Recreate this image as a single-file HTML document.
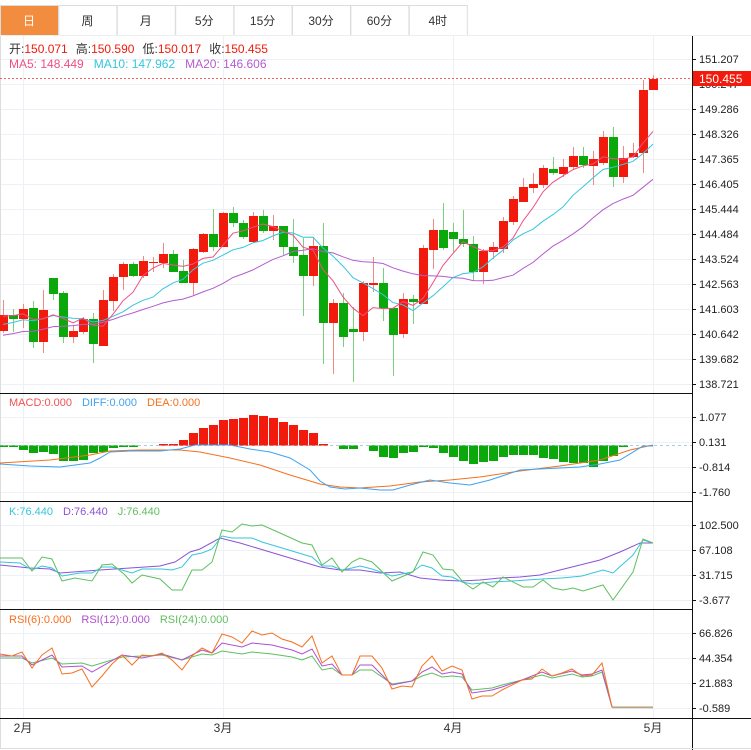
<!DOCTYPE html>
<html><head><meta charset="utf-8"><style>
html,body{margin:0;padding:0;background:#fff;}
body{width:751px;height:750px;overflow:hidden;font-family:"Liberation Sans","Noto Sans CJK SC",sans-serif;}
</style></head><body>
<svg id="s" width="751" height="750" xmlns="http://www.w3.org/2000/svg" style="position:absolute;left:0;top:0;font-family:'Liberation Sans','Noto Sans CJK SC',sans-serif"></svg>
<script>
const S=document.getElementById('s');let h='';
function L(x1,y1,x2,y2,c,w,d){h+=`<line x1="${x1}" y1="${y1}" x2="${x2}" y2="${y2}" stroke="${c}" stroke-width="${w||1}" ${d?'stroke-dasharray="'+d+'"':''}/>`;}
function R(x,y,w,hh,f,st){h+=`<rect x="${x}" y="${y}" width="${w}" height="${hh}" fill="${f}" ${st?'stroke="'+st+'"':''}/>`;}
function T(x,y,t,c,sz,a){h+=`<text x="${x}" y="${y}" fill="${c}" font-size="${sz||12}" ${a?'text-anchor="'+a+'"':''}>${t}</text>`;}
function P(pts,c,w){h+=`<polyline points="${pts.map(p=>p.join(',')).join(' ')}" fill="none" stroke="${c}" stroke-width="${w||1}"/>`;}
function PF(a){let r=[];for(let i=0;i<a.length;i+=2)r.push([a[i],a[i+1]]);return r;}
// tabs
const tabs=['日','周','月','5分','15分','30分','60分','4时'];
tabs.forEach((t,i)=>{let x=i*58.4;R(x+0.5,5.5,58,30,i==0?'#f28d3f':'#fff','#dddddd');T(x+29,25,t,i==0?'#fff':'#333',12,'middle');});
// grids
const gc='#edf1f5';
[59,84,109,134,159,184,209,234,259,284,309,334,359,384,417,442,467,492,525,550,575,600,633,658,683,708].forEach(y=>L(0,y+.5,692,y+.5,gc));
[23,223,453,653].forEach(x=>L(x+.5,36,x+.5,718,gc));
L(0.5,36,0.5,748,'#ddd');
// candles
const C=[
[315,331,300,333,'r'],[315,319,309,332,'g'],[309,319,304,328,'r'],[308,342,301,348,'g'],[310,342,290,353,'r'],
[278,294,278,300,'g'],[293,337,291,343,'g'],[331,337,325,343,'r'],[319,332,317,334,'r'],[319,344,313,363,'g'],
[300,346,290,346,'r'],[277,301,274,311,'r'],[264,277,262,290,'r'],[264,276,262,277,'g'],[261,276,256,278,'r'],
[262,263,257,272,'r'],[254,263,243,268,'r'],[254,272,250,272,'g'],[271,283,260,283,'g'],[249,283,248,295,'r'],
[234,252,233,253,'r'],[234,247,209,251,'g'],[213,247,212,247,'r'],[213,223,207,227,'g'],[223,237,220,239,'g'],
[216,242,212,243,'r'],[216,231,210,233,'g'],[226,231,215,240,'r'],[226,247,226,255,'g'],[247,256,219,263,'g'],
[255,276,238,316,'g'],[246,276,237,286,'r'],[246,323,223,364,'g'],[303,323,299,374,'r'],[303,337,293,347,'g'],
[329,332,307,382,'g'],[283,332,281,341,'r'],[283,285,257,292,'r'],[283,308,268,321,'g'],[308,335,308,376,'g'],
[299,334,293,338,'r'],[299,302,295,324,'g'],[248,304,245,304,'r'],[230,250,219,269,'r'],[230,248,203,250,'g'],
[232,239,223,252,'g'],[239,244,210,247,'g'],[244,272,236,281,'g'],[251,272,249,284,'r'],[247,252,242,259,'r'],
[221,249,217,253,'r'],[199,222,196,225,'r'],[187,202,178,202,'r'],[184,188,173,193,'r'],[168,185,165,188,'r'],
[169,173,157,175,'g'],[167,174,159,177,'r'],[156,167,147,170,'r'],[156,165,147,168,'g'],[159,166,151,185,'r'],
[137,163,131,165,'r'],[137,177,127,187,'g'],[158,177,146,183,'r'],[153,157,143,158,'r'],[90,153,80,173,'r'],[79,90,75,90,'r']];
const RED='#f21a0c',GRN='#0aa80a';
const closes=C.map(c=>c[4]=='r'?c[0]:c[1]);
C.forEach((c,i)=>{let x=3+10*i;let col=c[4]=='r'?RED:GRN;L(x+.5,c[2],x+.5,c[3],c[4]=='r'?'#f28a84':'#7ccf7c');R(x-4,c[0],9,Math.max(1,c[1]-c[0]),col);});
const pre=[352,350,348,349,347,345,344,343,342,340,338,336,333,330,326,322,318,314,312];
const all=pre.concat(closes);
function MA(n){let r=[];for(let i=0;i<closes.length;i++){let k=i+pre.length,s=0;for(let j=0;j<n;j++)s+=all[k-j];r.push([3+10*i,(s/n).toFixed(1)]);}return r;}
P(MA(20),'#b45ccf');P(MA(10),'#35c6dc');P(MA(5),'#ef4f84');
L(0,78.5,692,78.5,'#f46060',1,'2,2');
// MACD
L(0,445.5,692,445.5,'#9cd3dc',1,'3,3');
const M=[447,447,450,453,452,454,461,461,460,453,452,448,447,447,446,445.5,444,444,440,433,428,425,420,419,418,415,416,418,422,425,430,433,444,445.5,449,449,446,451,457,458,453,452,447,448,453,457,461,464,462,461,457,455,455,455,458,459,462,463,463,467,461,456,447,445.5,445.5,445.5];
M.forEach((v,i)=>{let x=3+10*i;if(Math.abs(v-445.5)<0.6)return;if(v<445.5)R(x-4,v,9,445.5-v,RED);else R(x-4,445.5,9,v-445.5,GRN);});
P(PF([0,463,50,460,90,455,110,451,140,450,180,450,200,452,230,458,260,465,290,475,320,484,340,487,360,488,390,486,420,482,450,480,480,477,520,471,560,466,600,460,630,450,653,445]),'#f5701e');
P(PF([0,464,30,466,60,467,90,463,100,458,110,452,130,451,160,451,180,449,195,445,230,445,250,449,270,452,290,458,310,470,320,481,330,487,345,489,360,488,380,490,393,490,410,485,430,480,450,483,470,485,490,480,520,470,560,468,580,467,600,464,610,462,620,460,643,446,653,446]),'#3ea3ef');
// KDJ
P(PF([0,565,30,568,50,569,60,573,100,570,130,568,160,566,175,562,190,552,200,549,220,538,240,543,270,552,300,561,320,567,340,570,360,570,380,573,400,572,420,578,440,580,460,581,480,580,500,578,520,577,540,575,560,570,580,565,600,560,620,552,640,543,653,543]),'#8a54d6');
P(PF([0,562,20,563,32,570,42,566,52,568,62,576,80,573,92,573,102,567,112,567,132,573,142,569,162,569,172,570,182,567,192,555,202,553,212,549,222,536,232,538,252,538,262,542,282,548,302,554,312,557,322,566,332,566,342,570,352,568,360,566,372,569,392,576,412,572,422,565,432,568,442,576,452,577,462,582,472,584,482,583,492,582,512,581,542,579,562,578,582,576,603,570,613,573,633,555,643,540,653,543]),'#35c6dc');
P(PF([0,558,22,558,32,571,42,557,52,559,62,581,75,578,92,581,102,565,112,564,125,575,132,583,142,575,160,579,172,590,182,590,192,570,202,570,212,562,222,530,232,532,242,524,252,526,262,525,280,533,302,543,312,545,322,565,332,558,342,572,352,562,360,558,372,562,392,581,413,572,423,552,433,555,443,569,453,570,463,582,473,589,483,582,493,587,503,577,523,587,533,587,543,580,553,588,563,590,573,588,583,591,603,585,613,600,633,572,643,539,653,543]),'#5fbf5f');
// RSI
P(PF([0,658,22,658,32,663,52,658,62,664,82,663,92,666,122,657,162,655,182,660,202,654,212,655,222,651,242,654,252,652,272,654,292,657,302,660,312,656,322,670,332,668,342,675,352,675,360,670,372,670,392,684,412,681,422,676,432,673,442,677,452,676,462,677,472,690,492,688,502,685,522,680,542,675,552,678,572,674,582,677,592,676,602,672,612,707,653,707]),'#5fbf5f');
P(PF([0,656,22,656,32,665,52,655,62,667,82,666,92,672,122,655,142,658,162,654,182,660,202,650,212,653,222,643,242,647,252,643,272,645,292,650,302,654,312,649,322,666,332,664,342,675,352,675,360,665,372,665,392,685,412,681,422,672,432,667,442,674,452,672,462,674,472,693,492,690,502,687,522,680,542,672,552,676,572,671,582,675,592,674,602,670,612,707,653,707]),'#b04fd0');
P(PF([0,654,12,656,22,652,32,668,42,655,52,648,62,674,72,673,82,669,92,687,102,676,112,664,122,655,132,665,142,655,152,656,162,653,172,660,182,670,192,656,202,648,212,653,222,634,232,637,242,643,252,631,262,635,272,633,282,639,292,642,302,647,312,636,322,663,332,656,342,675,352,675,360,656,372,656,382,668,392,689,402,686,412,687,422,666,432,656,442,671,452,666,462,670,472,699,482,696,492,696,502,690,522,680,532,679,542,669,552,676,562,673,572,669,582,676,592,675,602,663,612,707,653,707]),'#f5701e');
L(612,707.5,653,707.5,'#b0a890',1.5);
// separators
[393,501,609,718].forEach(y=>L(0,y+.5,692,y+.5,'#111'));
L(692.5,35,692.5,750,'#111');L(692,718.5,751,718.5,'#111');
L(0,748.5,751,748.5,'#ddd');L(0,35.5,751,35.5,'#eee');
// axis labels
const ax=[[59,'151.207'],[84,'150.247'],[109,'149.286'],[134,'148.326'],[159,'147.365'],[184,'146.405'],[209,'145.444'],[234,'144.484'],[259,'143.524'],[284,'142.563'],[309,'141.603'],[334,'140.642'],[359,'139.682'],[384,'138.721'],[417,'1.077'],[442,'0.131'],[467,'-0.814'],[492,'-1.760'],[525,'102.500'],[550,'67.108'],[575,'31.715'],[600,'-3.677'],[633,'66.826'],[658,'44.354'],[683,'21.883'],[708,'-0.589']];
ax.forEach(a=>{L(692,a[0]+.5,696,a[0]+.5,'#111');T(699,a[0]+4,a[1],'#222',11);});
R(693,71,58,15,'#f21a0c');T(699,83,'150.455','#fff',12);
// dates
[[23,'2月'],[223,'3月'],[453,'4月'],[653,'5月']].forEach(d=>T(d[0],732,d[1],'#333',12,'middle'));
// info text
h+=`<text x="9" y="53" font-size="12"><tspan fill="#333">开:</tspan><tspan fill="#f21a0c">150.071</tspan><tspan fill="#333" dx="8">高:</tspan><tspan fill="#f21a0c">150.590</tspan><tspan fill="#333" dx="8">低:</tspan><tspan fill="#f21a0c">150.017</tspan><tspan fill="#333" dx="8">收:</tspan><tspan fill="#f21a0c">150.455</tspan></text>`;
h+=`<text x="9" y="68" font-size="12"><tspan fill="#ef4f84">MA5: 148.449</tspan><tspan fill="#35c6dc" dx="10">MA10: 147.962</tspan><tspan fill="#b45ccf" dx="10">MA20: 146.606</tspan></text>`;
h+=`<text x="9" y="406" font-size="11"><tspan fill="#f25050">MACD:0.000</tspan><tspan fill="#3ea3ef" dx="10">DIFF:0.000</tspan><tspan fill="#f5701e" dx="10">DEA:0.000</tspan></text>`;
h+=`<text x="9" y="515" font-size="11"><tspan fill="#35c6dc">K:76.440</tspan><tspan fill="#8a54d6" dx="10">D:76.440</tspan><tspan fill="#5fbf5f" dx="10">J:76.440</tspan></text>`;
h+=`<text x="9" y="623" font-size="11"><tspan fill="#f5701e">RSI(6):0.000</tspan><tspan fill="#b04fd0" dx="10">RSI(12):0.000</tspan><tspan fill="#5fbf5f" dx="10">RSI(24):0.000</tspan></text>`;
S.innerHTML=h;
</script>
</body></html>
